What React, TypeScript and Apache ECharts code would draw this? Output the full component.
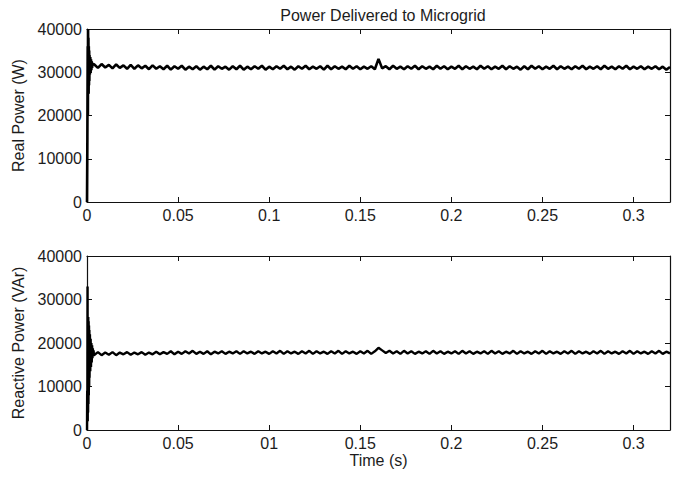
import React, { useEffect, useRef } from "react";
import * as echarts from "echarts";

const TITLE = "Power Delivered to Microgrid";
const TOP_Y_NAME = "Real Power (W)";
const BOTTOM_Y_NAME = "Reactive Power (VAr)";
const X_NAME = "Time (s)";

const X_MIN = 0;
const X_MAX = 0.32;
const X_STEP = 0.05;
const Y_MIN = 0;
const Y_MAX = 40000;
const Y_STEP = 10000;

// start-up transient, [time (s), real power (W)]
const realTransient: [number, number][] = [
  [0, 0], [0.0002, 15000], [0.0004, 36000], [0.0005, 20000], [0.0006, 40000],
  [0.0007, 26000], [0.0008, 38000], [0.0009, 25000], [0.001, 36000], [0.0011, 27000],
  [0.0012, 35000], [0.0013, 28000], [0.0014, 34000], [0.0016, 29500], [0.0018, 33500],
  [0.002, 30000], [0.0022, 33000], [0.0024, 30500], [0.0026, 32500], [0.0028, 31000],
  [0.003, 32000],
];

// start-up transient, [time (s), reactive power (VAr)]
const reactiveTransient: [number, number][] = [
  [0, 0], [0.0001, 9000], [0.0002, 3000], [0.0003, 33000], [0.0004, 2000],
  [0.0005, 26000], [0.0006, 4000], [0.0007, 26000], [0.0008, 6000], [0.0009, 25000],
  [0.001, 8000], [0.0011, 24000], [0.0012, 10000], [0.0013, 23000], [0.0014, 12000],
  [0.0016, 22000], [0.0018, 13500], [0.002, 21000], [0.0022, 14500], [0.0024, 20000],
  [0.0026, 15500], [0.0028, 19500], [0.003, 16500], [0.0032, 18800], [0.0034, 17000],
  [0.0036, 18300], [0.0038, 17200],
];

// steady-state samples, starting at STEADY_T0, one every STEADY_DT seconds
const STEADY_T0 = 0.004;
const STEADY_DT = 0.002;

const realSteady: number[] = [
  31800, 31000, 31900, 31100, 31700, 30900, 31800, 31000, 31600, 30800,
  31700, 30800, 31600, 30900, 31500, 30700, 31600, 30800, 31400, 30700,
  31500, 30600, 31400, 30800, 31500, 30600, 31300, 30700, 31400, 30600,
  31300, 30700, 31500, 30600, 31400, 30800, 31300, 30600, 31400, 30700,
  31500, 30600, 31300, 30700, 31400, 30800, 31500, 30600, 31300, 30700,
  31400, 30800, 31500, 30700, 31300, 30600, 31400, 30800, 31500, 30700,
  31300, 30800, 31400, 30600, 31500, 30700, 31400, 30800, 31300, 30700,
  31500, 30800, 31400, 30700, 31300, 30800, 31400, 30700, 33100, 30900,
  31400, 30700, 31500, 30800, 31300, 30700, 31400, 30800, 31500, 30700,
  31400, 30800, 31300, 30700, 31500, 30800, 31400, 30700, 31300, 30800,
  31500, 30700, 31400, 30800, 31300, 30700, 31500, 30800, 31400, 30700,
  31300, 30800, 31500, 30700, 31400, 30800, 31300, 30600, 31400, 30700,
  31500, 30800, 31400, 30700, 31300, 30800, 31500, 30700, 31400, 30800,
  31300, 30700, 31400, 30800, 31500, 30700, 31300, 30800, 31400, 30700,
  31500, 30800, 31300, 30700, 31400, 30800, 31500, 30700, 31300, 30800,
  31400, 30700, 31300, 30800, 31400, 30700, 31300, 30600, 31200,
];

const reactiveSteady: number[] = [
  17300, 17900, 17200, 17800, 17300, 17900, 17200, 17800, 17400, 17900,
  17300, 17800, 17400, 17900, 17300, 17800, 17400, 18000, 17400, 17900,
  17500, 18100, 17400, 18000, 17500, 18100, 17600, 18200, 17500, 18000,
  17500, 18100, 17400, 18000, 17600, 18100, 17500, 18000, 17600, 18100,
  17500, 18100, 17600, 18000, 17500, 18100, 17600, 18000, 17500, 18100,
  17600, 18200, 17500, 18100, 17600, 18000, 17500, 18100, 17600, 18200,
  17500, 18100, 17600, 18000, 17500, 18100, 17600, 18200, 17500, 18100,
  17600, 18000, 17500, 18100, 17600, 18200, 17500, 18100, 18900, 18300,
  17700, 18200, 17600, 18100, 17500, 18200, 17600, 18100, 17500, 18000,
  17600, 18100, 17500, 18200, 17600, 18100, 17500, 18000, 17600, 18100,
  17500, 18200, 17600, 18100, 17500, 18000, 17600, 18100, 17500, 18200,
  17600, 18100, 17500, 18000, 17600, 18200, 17500, 18100, 17600, 18000,
  17500, 18100, 17600, 18200, 17500, 18100, 17600, 18000, 17500, 18100,
  17600, 18200, 17500, 18100, 17600, 18000, 17500, 18100, 17600, 18200,
  17500, 18100, 17600, 18000, 17500, 18100, 17600, 18200, 17500, 18100,
  17600, 18000, 17500, 18100, 17600, 18200, 17500, 18000, 17600,
];

function buildSeries(transient: [number, number][], steady: number[]): [number, number][] {
  const out: [number, number][] = transient.map((p) => [p[0], p[1]]);
  steady.forEach((v, i) => {
    const t = Math.round((STEADY_T0 + i * STEADY_DT) * 1e6) / 1e6;
    out.push([t, v]);
  });
  return out;
}

const FONT = "'Liberation Sans', Arial, Helvetica, sans-serif";
const TEXT = "#1c1c1c";
const AXIS = "#111";

export default function App() {
  const ref = useRef<HTMLDivElement>(null);

  useEffect(() => {
    if (!ref.current) return;
    const chart = echarts.init(ref.current, undefined, { renderer: "svg" });

    const grids = [
      { left: 87, top: 29, width: 583, height: 173 },
      { left: 87, top: 256, width: 583, height: 174 },
    ];

    const xAxes: any[] = [];
    const yAxes: any[] = [];
    grids.forEach((_, gi) => {
      xAxes.push({
        type: "value",
        gridIndex: gi,
        position: "bottom",
        min: X_MIN,
        max: X_MAX,
        interval: X_STEP,
        name: gi === 1 ? X_NAME : "",
        nameLocation: "middle",
        nameGap: 22,
        nameTextStyle: { color: TEXT, fontSize: 16, fontFamily: FONT },
        axisLine: { show: true, onZero: false, lineStyle: { color: AXIS, width: 1.2 } },
        axisTick: { show: true, inside: true, length: 5, lineStyle: { color: AXIS, width: 1 } },
        axisLabel: {
          show: true,
          margin: 5,
          color: TEXT,
          fontSize: 16,
          fontFamily: FONT,
          showMaxLabel: false,
          formatter: (v: number) => {
            const r = Math.round(v * 100) / 100;
            if (gi === 1 && r === 0.1) return "01";
            return String(r);
          },
        },
        splitLine: { show: false },
      });
      xAxes.push({
        type: "value",
        gridIndex: gi,
        position: "top",
        min: X_MIN,
        max: X_MAX,
        interval: X_STEP,
        axisLine: { show: true, onZero: false, lineStyle: { color: AXIS, width: 1.2 } },
        axisTick: { show: true, inside: true, length: 5, lineStyle: { color: AXIS, width: 1 } },
        axisLabel: { show: false },
        splitLine: { show: false },
      });
      yAxes.push({
        type: "value",
        gridIndex: gi,
        position: "left",
        min: Y_MIN,
        max: Y_MAX,
        interval: Y_STEP,
        name: gi === 0 ? TOP_Y_NAME : BOTTOM_Y_NAME,
        nameLocation: "middle",
        nameGap: 48,
        nameTextStyle: { color: TEXT, fontSize: 16, fontFamily: FONT },
        axisLine: { show: true, onZero: false, lineStyle: { color: AXIS, width: 1.2 } },
        axisTick: { show: true, inside: true, length: 5, lineStyle: { color: AXIS, width: 1 } },
        axisLabel: {
          show: true,
          margin: 5,
          color: TEXT,
          fontSize: 16,
          fontFamily: FONT,
          formatter: (v: number) => String(Math.round(v)),
        },
        splitLine: { show: false },
      });
      yAxes.push({
        type: "value",
        gridIndex: gi,
        position: "right",
        min: Y_MIN,
        max: Y_MAX,
        interval: Y_STEP,
        axisLine: { show: true, onZero: false, lineStyle: { color: AXIS, width: 1.2 } },
        axisTick: { show: true, inside: true, length: 5, lineStyle: { color: AXIS, width: 1 } },
        axisLabel: { show: false },
        splitLine: { show: false },
      });
    });

    chart.setOption({
      animation: false,
      backgroundColor: "#fff",
      title: {
        text: TITLE,
        left: 378,
        top: 2,
        textAlign: "center",
        textStyle: { color: TEXT, fontSize: 16, fontWeight: "normal", fontFamily: FONT },
      },
      grid: grids,
      xAxis: xAxes,
      yAxis: yAxes,
      series: [
        {
          type: "line",
          xAxisIndex: 0,
          yAxisIndex: 0,
          data: buildSeries(realTransient, realSteady),
          showSymbol: false,
          lineStyle: { color: "#000", width: 2.6 },
          silent: true,
        },
        {
          type: "line",
          xAxisIndex: 2,
          yAxisIndex: 2,
          data: buildSeries(reactiveTransient, reactiveSteady),
          showSymbol: false,
          lineStyle: { color: "#000", width: 2.4 },
          silent: true,
        },
      ],
    });

    return () => chart.dispose();
  }, []);

  return (
    <div
      ref={ref}
      style={{ position: "fixed", left: 0, top: 0, width: 682, height: 477, background: "#fff" }}
    />
  );
}
